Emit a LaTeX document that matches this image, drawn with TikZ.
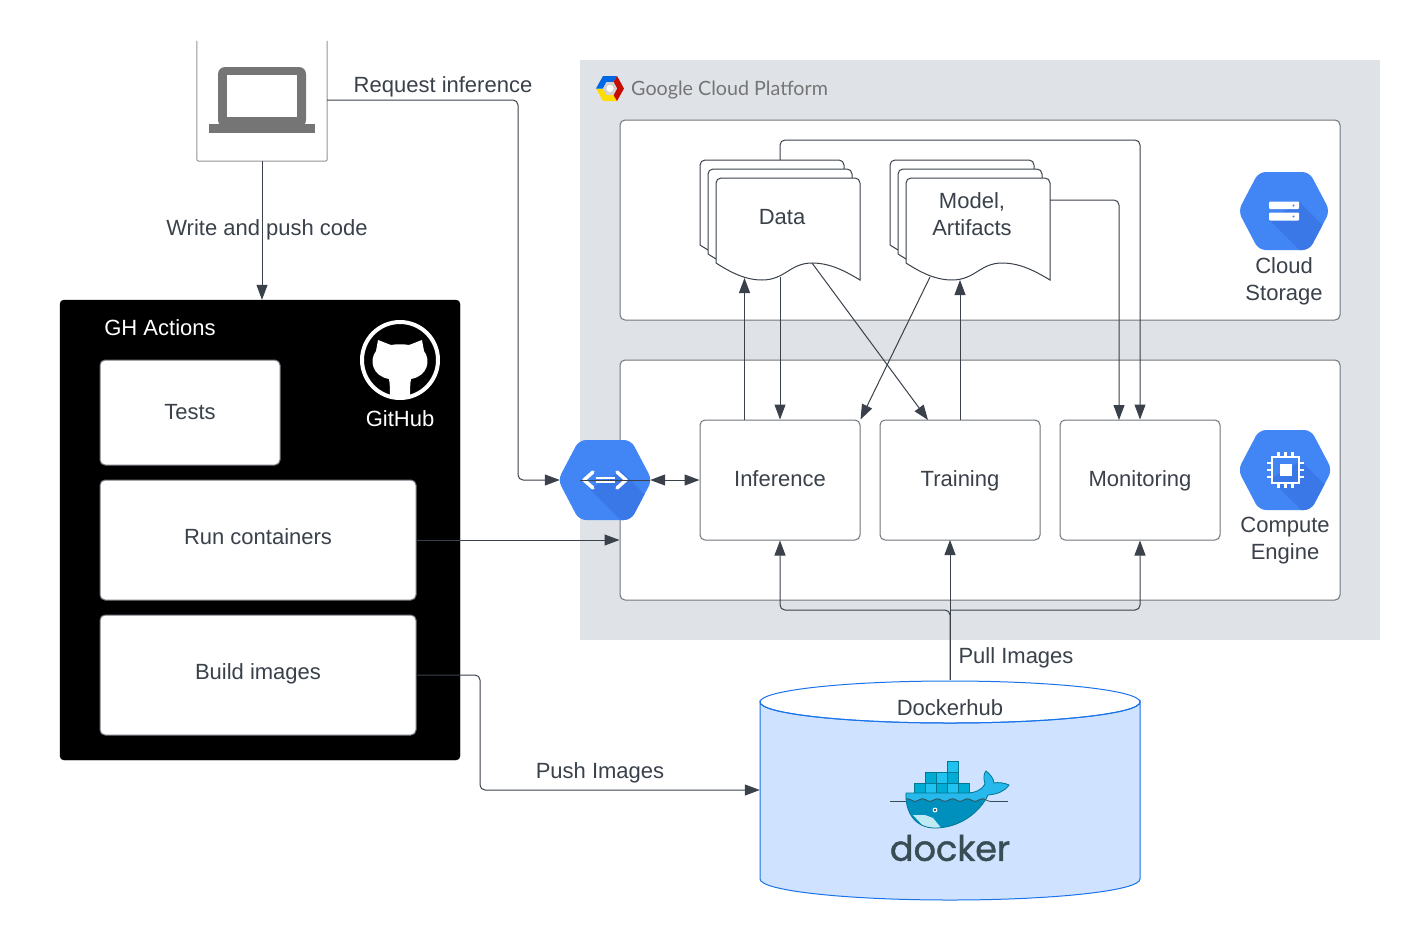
\documentclass[tikz,border=0pt]{standalone}
\usepackage{fontspec}
\setmainfont{Liberation Sans}
\newfontfamily\logofont[FakeBold=1.2]{Poppins}
\newfontfamily\gcpfont{Lato}
\usetikzlibrary{arrows.meta}

\definecolor{inkgray}{HTML}{3A414A}
\definecolor{panelgray}{HTML}{6F757C}
\definecolor{gcpgray}{HTML}{DFE3E8}
\definecolor{hexblue}{HTML}{4285F4}
\definecolor{hexshade}{HTML}{3B78E7}
\definecolor{hubfill}{HTML}{CFE2FF}
\definecolor{hubline}{HTML}{1A73E8}
\definecolor{laptopgray}{HTML}{757575}
\definecolor{dockink}{HTML}{394D54}
\definecolor{whaletop}{HTML}{27B9EC}
\definecolor{whalelow}{HTML}{0090BE}
\definecolor{cratea}{HTML}{00ACD3}
\definecolor{crateb}{HTML}{20C2EF}

\tikzset{
    label/.style={text=inkgray, font=\fontsize{22}{27}\selectfont, align=center, inner sep=0pt},
    whitelabel/.style={label, text=white},
    panel/.style={draw=panelgray, fill=white, rounded corners=5pt, line width=1pt},
    block/.style={label, draw=panelgray, fill=white, rounded corners=5pt, line width=1pt, text height=17pt, text depth=4pt},
    port/.style={inner sep=0pt, minimum size=0pt},
    sheet/.style={draw=inkgray, fill=white, line width=1pt},
    flow/.style={draw=inkgray, line width=1pt, rounded corners=5pt, -{Triangle[length=15pt,width=11pt]}},
    plainflow/.style={draw=inkgray, line width=1pt, rounded corners=5pt},
    twoflow/.style={flow, {Triangle[length=15pt,width=11pt]}-{Triangle[length=15pt,width=11pt]}},
    crate/.style={draw=cratea!70!black, line width=.8pt}
}

% Document sheet with a wavy lower edge
\newcommand{\docsheet}[2]{
    \draw[sheet, shift={(#1,#2)}] (0,85) [rounded corners=5pt] -- (0,0) -- (144,0) -- (144,40) [sharp corners] -- (144,102)
        .. controls (129,93) and (114,85) .. (96,85) .. controls (74,85) and (69,102) .. (46,102)
        .. controls (29,102) and (14,94) .. (0,85) -- cycle;
}

% Blue hexagon with the shaded band: centre x, centre y, scale
\newcommand{\hexbadge}[3]{
    \begin{scope}[shift={(#1,#2)}, scale=#3]
        \fill[hexblue, rounded corners=7pt] (-47,0) -- (-26,-40) -- (26,-40) -- (47,0) -- (26,40) -- (-26,40) -- cycle;
        \begin{scope}
            \clip[rounded corners=7pt] (-47,0) -- (-26,-40) -- (26,-40) -- (47,0) -- (26,40) -- (-26,40) -- cycle;
            \fill[hexshade] (-15,9) -- (16,-9) -- (50,25) -- (50,60) -- (36,60) -- cycle;
        \end{scope}
    \end{scope}
}

\begin{document}
\begin{tikzpicture}[x=1pt, y=-1pt]
    \useasboundingbox (0,0) rectangle (1420,940);

    % Google Cloud area
    \fill[gcpgray] (580,60) rectangle (1380,640);
    \begin{scope}[shift={(610,88.5)}]
        \fill[yellow!80!orange] (-14,0) -- (-7,12.5) -- (7,12.5) -- (3.5,6.5) -- (-3.5,6.5) -- (-7,0) -- cycle;
        \fill[blue!55!cyan!90!black] (-14,0) -- (-7,-12.5) -- (7,-12.5) -- (3.5,-6.5) -- (-3.5,-6.5) -- (-7,0) -- cycle;
        \fill[red!75!black!90!orange] (7,-12.5) -- (14,0) -- (7,12.5) -- (3.5,6.5) -- (7,0) -- (3.5,-6.5) -- cycle;
        \fill[gray!35] (-7,0) -- (-3.5,-6.5) -- (3.5,-6.5) -- (7,0) -- (3.5,6.5) -- (-3.5,6.5) -- cycle;
        \fill[white] (0,0) circle (3.5);
    \end{scope}
    \node[anchor=west, inner sep=0pt, text=laptopgray, font=\gcpfont\fontsize{19.7}{24}\selectfont] (gcptitle) at (631,90.5) {Google Cloud Platform};

    % Storage and compute panels
    \node[panel, minimum width=720pt, minimum height=200pt] (storagepanel) at (980,220) {};
    \node[panel, minimum width=720pt, minimum height=240pt] (computepanel) at (980,480) {};

    % Laptop
    \node[port, minimum width=130pt, minimum height=120pt] (laptop) at (262,101) {};
    \draw[gray!85, line width=1pt, rounded corners=2pt] (laptop.north west) -- (laptop.south west) -- (laptop.south east) -- (laptop.north east);
    \fill[laptopgray, rounded corners=7pt] (218,67) rectangle (306,127);
    \fill[white] (227,75) rectangle (297,117);
    \fill[laptopgray] (209,124) rectangle (315,133);

    % GH Actions
    \node[draw=black, fill=black, rounded corners=4pt, minimum width=400pt, minimum height=460pt] (actions) at (260,530) {};
    \node[whitelabel] (actionstitle) at (160,328) {GH Actions};
    \node[block, minimum width=180pt, minimum height=105pt] (tests) at (190,412.5) {Tests};
    \node[block, minimum width=316pt, minimum height=120pt] (runbox) at (258,540) {};
    \node[label] (runlabel) at (258,537) {Run containers};
    \node[block, minimum width=316pt, minimum height=120pt] (buildbox) at (258,675) {};
    \node[label] (buildlabel) at (258,674) {Build images};

    % GitHub mark
    \node[port, minimum size=80pt] (github) at (400,360) {};
    \draw[white, line width=4pt] (400,360) circle (38);
    \fill[white] (378,340) -- (391,345) .. controls (396,344) and (404,344) .. (409,345) -- (422,340) -- (424,351)
        .. controls (431,360) and (428,376) .. (411,379) .. controls (410,384) and (410,390) .. (410,397) -- (390,397)
        .. controls (390,390) and (390,384) .. (389,379) .. controls (372,376) and (369,360) .. (376,351) -- cycle;
    \node[whitelabel] (githublabel) at (400,419) {GitHub};

    % Documents
    \foreach \x/\y in {700/160, 708/169, 890/160, 898/169} {
        \docsheet{\x}{\y}
    }
    \docsheet{716}{178}
    \docsheet{906}{178}
    \node[label] (data) at (782,217) {Data};
    \node[label] (model) at (972,214) {Model,\\Artifacts};
    \coordinate (dataout) at (780,277);
    \coordinate (datain) at (744.5,278);
    \coordinate (datacross) at (812,263);
    \coordinate (datatop) at (780,160);
    \coordinate (modelcross) at (930,277);
    \coordinate (modelin) at (960,280);
    \coordinate (modelside) at (1050,200);

    % Compute blocks
    \node[block, minimum width=160pt, minimum height=120pt] (inference) at (780,480) {Inference};
    \node[block, minimum width=160pt, minimum height=120pt] (training) at (960,480) {Training};
    \node[block, minimum width=160pt, minimum height=120pt] (monitoring) at (1140,480) {Monitoring};
    \coordinate (trainport) at (928,420);
    \coordinate (pullfork) at (950,610);
    \coordinate (trainbottom) at (950,540);
    \coordinate (modelport) at (1119,420);

    % Hexagon icons
    \hexbadge{1284}{211}{.975}
    \fill[white, rounded corners=1pt] (1269,201.5) rectangle (1299,209);
    \fill[white, rounded corners=1pt] (1269,212.5) rectangle (1299,220.5);
    \foreach \y in {205.5, 216.5} {
        \fill[hexblue] (1293.5,\y) circle (1.2);
    }
    \node[label] (storagelabel) at (1284,281) {Cloud\\Storage};

    \hexbadge{1285}{470}{1}
    \draw[white, line width=2.4pt] (1272,457) rectangle (1299,483);
    \fill[white] (1279.5,464) rectangle (1291.5,476);
    \foreach \d in {-7, 0, 7} {
        \draw[white, line width=2.4pt] (1285.5+\d,452) -- (1285.5+\d,457);
        \draw[white, line width=2.4pt] (1285.5+\d,483) -- (1285.5+\d,488);
        \draw[white, line width=2.4pt] (1267,470+\d) -- (1272,470+\d);
        \draw[white, line width=2.4pt] (1299,470+\d) -- (1304,470+\d);
    }
    \node[label] (computelabel) at (1285,541) {Compute\\Engine};

    \node[port, minimum width=90pt, minimum height=80pt] (gateway) at (605,480) {};
    \hexbadge{605}{480}{1}
    \draw[white, line width=3.5pt, line cap=round, line join=round] (593,472) -- (584,480) -- (593,488);
    \draw[white, line width=3.5pt, line cap=round, line join=round] (617,472) -- (626,480) -- (617,488);
    \draw[white, line width=1.6pt] (596,478.2) -- (615,478.2);
    \draw[white, line width=1.6pt] (596,481.8) -- (615,481.8);
    \coordinate (gatewayline) at (580,480);

    % Dockerhub cylinder
    \node[port, minimum width=380pt, minimum height=220pt] (dockerhub) at (950,790) {};
    \draw[draw=hubline, fill=hubfill, line width=1pt] (760,702) arc[start angle=180, end angle=360, x radius=190, y radius=-21]
        -- (1140,879) arc[start angle=0, end angle=-180, x radius=190, y radius=-21] -- cycle;
    \draw[draw=hubline, line width=1pt] (950,702) ellipse[x radius=190, y radius=21];
    \node[label] (hublabel) at (950,708) {Dockerhub};

    % Docker whale
    \foreach \x/\y/\c in {947/761/crateb, 925/772/cratea, 936/772/crateb, 947/772/cratea,
        914/783/cratea, 925/783/crateb, 936/783/cratea, 947/783/crateb, 958/783/cratea} {
        \fill[\c, crate] (\x,\y) rectangle ++(11,11);
    }
    \begin{scope}
        \clip (906,793) -- (966,793) .. controls (975,793) and (982,790) .. (985,784)
            .. controls (983,778) and (984,773) .. (986,771) .. controls (990,774) and (994,779) .. (994,783)
            .. controls (998,782) and (1005,783) .. (1009,785) .. controls (1004,792) and (997,794) .. (988,795)
            .. controls (980,812) and (960,828) .. (935,828) .. controls (915,828) and (905,812) .. (906,793) -- cycle;
        \fill[whalelow] (900,765) rectangle (1012,830);
        \fill[whaletop] (900,765) -- (1012,765) -- (1012,800) -- plot[domain=112:0, samples=70] (900+\x,{800+1.2*cos(\x*24)}) -- cycle;
        \fill[cratea!25!white] (913,815) -- (925,815) -- (933,818) -- (942,829) -- (926,829) -- cycle;
    \end{scope}
    \draw[dockink, line width=.8pt] plot[domain=6:90, samples=70] (900+\x,{800+1.2*cos(\x*24)});
    \draw[dockink, line width=.8pt] (890,801.5) -- (906,801.5);
    \draw[dockink, line width=.8pt] (990,801.5) -- (1008,801.5);
    \draw[cratea!70!black, line width=.8pt] (906,793) -- (966,793) .. controls (975,793) and (982,790) .. (985,784)
        .. controls (983,778) and (984,773) .. (986,771) .. controls (990,774) and (994,779) .. (994,783)
        .. controls (998,782) and (1005,783) .. (1009,785) .. controls (1004,792) and (997,794) .. (988,795)
        .. controls (980,812) and (960,828) .. (935,828) .. controls (915,828) and (905,812) .. (906,793) -- cycle;
    \fill[white] (935,810) circle (2.4);
    \fill[dockink] (935,810) circle (1.3);
    \node[inner sep=0pt, text=dockink, font=\logofont\fontsize{35}{40}\selectfont] (dockerword) at (950,848) {docker};

    % Connectors
    \draw[flow] (laptop.south) -- (actions.north -| laptop.south);
    \coordinate (requestbend) at (518,100);
    \draw[flow] (laptop.east |- requestbend) -- (requestbend) |- (gateway.west);
    \draw[flow] (runbox.east) -- (computepanel.west |- runbox.east);
    \coordinate (buildbend) at (480,675);
    \draw[flow] (buildbox.east) -- (buildbend) |- (dockerhub.west);
    \draw[plainflow] (gatewayline) -- (gateway.east);
    \draw[twoflow] (gateway.east) -- (inference.west);
    \draw[flow] (inference.north -| datain) -- (datain);
    \draw[flow] (dataout) -- (inference.north -| dataout);
    \draw[flow] (datacross) -- (trainport);
    \draw[flow] (modelcross) -- (inference.north east);
    \draw[flow] (training.north -| modelin) -- (modelin);
    \draw[flow] (modelside) -| (modelport);
    \coordinate (datatopbend) at (780,140);
    \draw[flow] (datatop) -- (datatopbend) -| (monitoring.north);
    \draw[flow] (dockerhub.north) -- (pullfork) -| (inference.south);
    \draw[flow] (dockerhub.north) -- (trainbottom);
    \draw[flow] (pullfork) -| (monitoring.south);

    % Connector labels
    \node[label] (requestlabel) at (443,87) {Request inference};
    \node[label] (writelabel) at (267,230) {Write and push code};
    \node[label] (pulllabel) at (1016,658) {Pull Images};
    \node[label] (pushlabel) at (600,773) {Push Images};
\end{tikzpicture}
\end{document}
